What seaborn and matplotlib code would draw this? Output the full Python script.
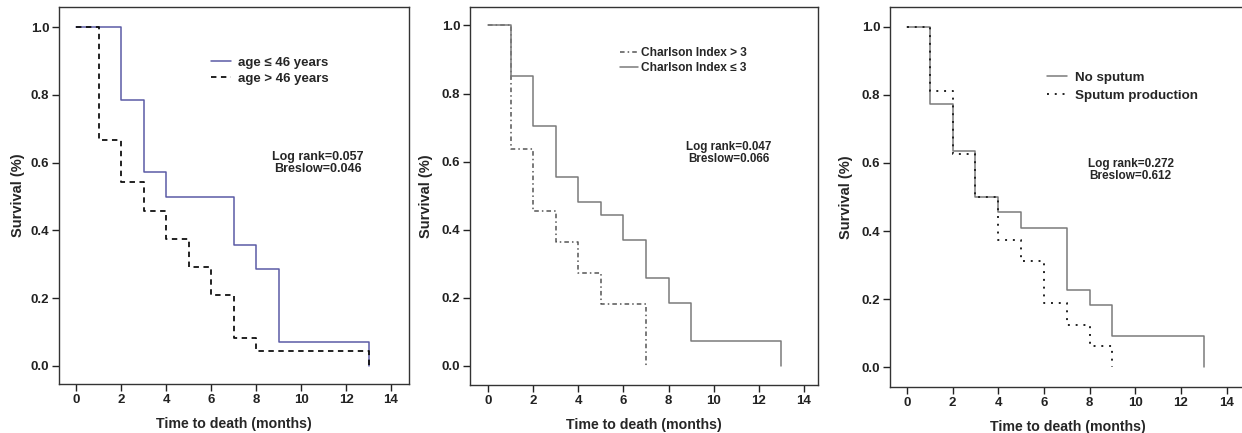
import matplotlib
matplotlib.use("Agg")
import matplotlib.pyplot as plt
import seaborn as sns
import pandas as pd

# ---- data ----
# Panel 1: age
age_le46_t = [0, 2, 3, 4, 7, 8, 9, 13]
age_le46_s = [1.0, 0.786, 0.571, 0.500, 0.357, 0.286, 0.071, 0.0]
age_gt46_t = [0, 1, 2, 3, 4, 5, 6, 7, 8, 13]
age_gt46_s = [1.0, 0.667, 0.542, 0.458, 0.375, 0.292, 0.208, 0.083, 0.042, 0.0]

# Panel 2: Charlson index
ch_gt3_t = [0, 1, 2, 3, 4, 5, 7]
ch_gt3_s = [1.0, 0.636, 0.455, 0.364, 0.273, 0.182, 0.0]
ch_le3_t = [0, 1, 2, 3, 4, 5, 6, 7, 8, 9, 13]
ch_le3_s = [1.0, 0.852, 0.704, 0.556, 0.481, 0.444, 0.370, 0.259, 0.185, 0.074, 0.0]

# Panel 3: sputum
nosp_t = [0, 1, 2, 3, 4, 5, 7, 8, 9, 13]
nosp_s = [1.0, 0.773, 0.636, 0.500, 0.455, 0.409, 0.227, 0.182, 0.091, 0.0]
sp_t = [0, 1, 2, 3, 4, 5, 6, 7, 8, 9]
sp_s = [1.0, 0.8125, 0.625, 0.500, 0.375, 0.3125, 0.1875, 0.125, 0.0625, 0.0]

x_ticks = [0, 2, 4, 6, 8, 10, 12, 14]
y_ticks = [0.0, 0.2, 0.4, 0.6, 0.8, 1.0]
x_label = "Time to death (months)"
y_label = "Survival (%)"

labels1 = ["age \u2264 46 years", "age > 46 years"]
labels2 = ["Charlson Index > 3", "Charlson Index \u2264 3"]
labels3 = ["No sputum", "Sputum production"]
stats1 = "Log rank=0.057\nBreslow=0.046"
stats2 = "Log rank=0.047\nBreslow=0.066"
stats3 = "Log rank=0.272\nBreslow=0.612"

# ---- style ----
sns.set_style("white")
plt.rcParams["font.family"] = ["Liberation Sans", "DejaVu Sans"]
plt.rcParams["font.weight"] = "bold"

fig = plt.figure(figsize=(12.42, 4.33), dpi=100)
ax1 = fig.add_axes([0.0475, 0.1132, 0.2818, 0.8706])
ax2 = fig.add_axes([0.3784, 0.1109, 0.2802, 0.8729])
ax3 = fig.add_axes([0.7166, 0.1062, 0.2866, 0.8770])


def kmline(ax, t, s, label, **kw):
    df = pd.DataFrame({"t": t, "s": s})
    sns.lineplot(data=df, x="t", y="s", ax=ax, estimator=None, sort=False,
                 drawstyle="steps-post", label=label, **kw)


def style(ax, xlim, ylim, ypad):
    ax.set_xlim(*xlim)
    ax.set_ylim(*ylim)
    ax.set_xticks(x_ticks)
    ax.set_yticks(y_ticks)
    ax.set_yticklabels([f"{v:.1f}" for v in y_ticks])
    ax.tick_params(direction="out", length=5, width=1, colors="#222222",
                   labelsize=9.5, left=True, bottom=True, pad=2)
    for lab in ax.get_xticklabels() + ax.get_yticklabels():
        lab.set_fontweight("bold")
    for sp in ax.spines.values():
        sp.set_linewidth(1.0)
        sp.set_color("#333333")
    ax.set_xlabel(x_label, fontsize=10.2, fontweight="bold", labelpad=8)
    ax.set_ylabel(y_label, fontsize=10.5, fontweight="bold", labelpad=ypad)


# Panel 1
kmline(ax1, age_le46_t, age_le46_s, labels1[0], color="#5b5ba6", linewidth=1.1)
kmline(ax1, age_gt46_t, age_gt46_s, labels1[1], color="#111111", linewidth=1.3,
       dashes=(3, 2.5))
style(ax1, (-0.76, 14.8), (-0.054, 1.06), 4)
ax1.legend(loc="upper left", bbox_to_anchor=(0.435, 0.868), frameon=False,
           fontsize=9.5, handlelength=1.5, handletextpad=0.5, labelspacing=0.25,
           borderpad=0, borderaxespad=0)
ax1.text(10.75, 0.60, stats1, ha="center", va="center", fontsize=9,
         fontweight="bold", linespacing=1.0)

# Panel 2
kmline(ax2, ch_gt3_t, ch_gt3_s, labels2[0], color="#555555", linewidth=1.1,
       dashes=(3, 2, 1, 2))
kmline(ax2, ch_le3_t, ch_le3_s, labels2[1], color="#7a7a7a", linewidth=1.1)
style(ax2, (-0.8, 14.62), (-0.056, 1.054), 6)
ax2.legend(loc="upper left", bbox_to_anchor=(0.43, 0.895), frameon=False,
           fontsize=8.6, handlelength=1.5, handletextpad=0.3, labelspacing=0.3,
           borderpad=0, borderaxespad=0)
ax2.text(10.68, 0.626, stats2, ha="center", va="center", fontsize=8.4,
         fontweight="bold", linespacing=1.0)

# Panel 3
kmline(ax3, nosp_t, nosp_s, labels3[0], color="#7a7a7a", linewidth=1.1)
kmline(ax3, sp_t, sp_s, labels3[1], color="#222222", linewidth=1.4,
       dashes=(1, 3))
style(ax3, (-0.74, 14.85), (-0.058, 1.057), 6)
ax3.legend(loc="upper left", bbox_to_anchor=(0.44, 0.83), frameon=False,
           fontsize=9.6, handlelength=1.5, handletextpad=0.6, labelspacing=0.4,
           borderpad=0, borderaxespad=0)
ax3.text(9.8, 0.58, stats3, ha="center", va="center", fontsize=8.5,
         fontweight="bold", linespacing=1.0)

fig.savefig("out.png", dpi=100)
